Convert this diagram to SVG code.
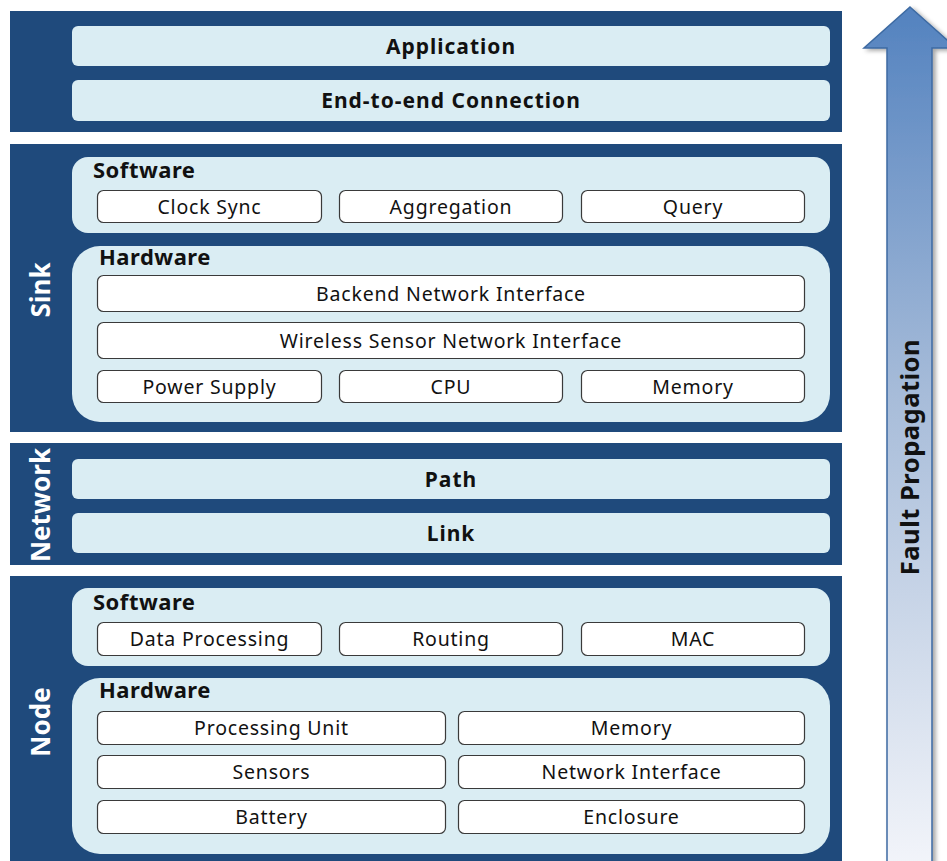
<svg xmlns="http://www.w3.org/2000/svg" width="947" height="861" viewBox="0 0 947 861">
<defs>
<linearGradient id="arrowGrad" x1="0" y1="0" x2="0" y2="1">
<stop offset="0" stop-color="#5382bf"/>
<stop offset="0.45" stop-color="#a7bcd9"/>
<stop offset="1" stop-color="#f3f5fa"/>
</linearGradient>
<filter id="shadow" x="-20%" y="-5%" width="150%" height="110%">
<feDropShadow dx="3" dy="2" stdDeviation="2" flood-color="#000" flood-opacity="0.35"/>
</filter>
</defs>
<style>
.band{fill:#1f4a7c}
.panel{fill:#daedf3}
.box{fill:#ffffff;stroke:#3a3a3a;stroke-width:1.2}
.bt{font-family:"Noto Sans","Open Sans","DejaVu Sans",sans-serif;font-size:19.5px;letter-spacing:0.8px;fill:#111;text-anchor:middle}
.bl{font-family:"Noto Sans","Open Sans","DejaVu Sans",sans-serif;font-size:21px;font-weight:bold;fill:#111;text-anchor:middle;letter-spacing:1px}
.hl{font-family:"Noto Sans","Open Sans","DejaVu Sans",sans-serif;font-size:22px;font-weight:bold;fill:#111;letter-spacing:0.5px}
.side{font-family:"Noto Sans","Open Sans","DejaVu Sans",sans-serif;font-size:26px;font-weight:bold;fill:#ffffff;text-anchor:middle}
.fp{font-family:"Noto Sans","Open Sans","DejaVu Sans",sans-serif;font-size:25.5px;font-weight:bold;fill:#111;text-anchor:middle;letter-spacing:0.5px}
</style>

<g id="arrow">
<polygon points="910,7 956,48 932,48 932,870 887,870 887,48 864,48" fill="url(#arrowGrad)" stroke="#3d6aa2" stroke-width="1.5" filter="url(#shadow)"/>
<text class="fp" x="910" y="466" transform="rotate(-90 910 457)">Fault Propagation</text>
</g>

<g id="top-layer">
<rect class="band" x="10" y="11" width="832" height="121"/>
<g id="application"><rect class="panel" x="72" y="26" width="758" height="40" rx="6"/><text class="bl" x="451" y="54">Application</text></g>
<g id="end-to-end"><rect class="panel" x="72" y="80" width="758" height="41" rx="6"/><text class="bl" x="451" y="108">End-to-end Connection</text></g>
</g>

<g id="sink">
<rect class="band" x="10" y="144" width="832" height="288"/>
<text class="side" x="41" y="299" transform="rotate(-90 41 290)">Sink</text>
<g id="sink-software">
<rect class="panel" x="72" y="157" width="758" height="76" rx="16"/>
<text class="hl" x="93" y="178">Software</text>
<g id="clock-sync"><rect class="box" x="97.5" y="190.5" width="224" height="32" rx="6"/><text class="bt" x="209.5" y="213.5">Clock Sync</text></g>
<g id="aggregation"><rect class="box" x="339.5" y="190.5" width="223" height="32" rx="6"/><text class="bt" x="451" y="213.5">Aggregation</text></g>
<g id="query"><rect class="box" x="581.5" y="190.5" width="223" height="32" rx="6"/><text class="bt" x="693" y="213.5">Query</text></g>
</g>
<g id="sink-hardware">
<rect class="panel" x="72" y="246" width="758" height="176" rx="28"/>
<text class="hl" x="99" y="265">Hardware</text>
<g id="backend"><rect class="box" x="97.5" y="275.5" width="707" height="36" rx="6"/><text class="bt" x="451" y="300.5">Backend Network Interface</text></g>
<g id="wsn-interface"><rect class="box" x="97.5" y="322.5" width="707" height="36" rx="6"/><text class="bt" x="451" y="347.5">Wireless Sensor Network Interface</text></g>
<g id="power-supply"><rect class="box" x="97.5" y="370.5" width="224" height="32" rx="6"/><text class="bt" x="209.5" y="393.5">Power Supply</text></g>
<g id="cpu"><rect class="box" x="339.5" y="370.5" width="223" height="32" rx="6"/><text class="bt" x="451" y="393.5">CPU</text></g>
<g id="sink-memory"><rect class="box" x="581.5" y="370.5" width="223" height="32" rx="6"/><text class="bt" x="693" y="393.5">Memory</text></g>
</g>
</g>

<g id="network">
<rect class="band" x="10" y="443" width="832" height="122"/>
<text class="side" x="41" y="514" transform="rotate(-90 41 505)">Network</text>
<g id="path"><rect class="panel" x="72" y="459" width="758" height="40" rx="6"/><text class="bl" x="451" y="487">Path</text></g>
<g id="link"><rect class="panel" x="72" y="513" width="758" height="40" rx="6"/><text class="bl" x="451" y="541">Link</text></g>
</g>

<g id="node">
<rect class="band" x="10" y="576" width="832" height="285"/>
<text class="side" x="41" y="731" transform="rotate(-90 41 722)">Node</text>
<g id="node-software">
<rect class="panel" x="72" y="588" width="758" height="78" rx="16"/>
<text class="hl" x="93" y="610">Software</text>
<g id="data-processing"><rect class="box" x="97.5" y="622.5" width="224" height="33" rx="6"/><text class="bt" x="209.5" y="646">Data Processing</text></g>
<g id="routing"><rect class="box" x="339.5" y="622.5" width="223" height="33" rx="6"/><text class="bt" x="451" y="646">Routing</text></g>
<g id="mac"><rect class="box" x="581.5" y="622.5" width="223" height="33" rx="6"/><text class="bt" x="693" y="646">MAC</text></g>
</g>
<g id="node-hardware">
<rect class="panel" x="72" y="678" width="758" height="176" rx="28"/>
<text class="hl" x="99" y="698">Hardware</text>
<g id="processing-unit"><rect class="box" x="97.5" y="711.5" width="348" height="33" rx="6"/><text class="bt" x="271.5" y="735">Processing Unit</text></g>
<g id="node-memory"><rect class="box" x="458.5" y="711.5" width="346" height="33" rx="6"/><text class="bt" x="631.5" y="735">Memory</text></g>
<g id="sensors"><rect class="box" x="97.5" y="755.5" width="348" height="33" rx="6"/><text class="bt" x="271.5" y="779">Sensors</text></g>
<g id="network-interface"><rect class="box" x="458.5" y="755.5" width="346" height="33" rx="6"/><text class="bt" x="631.5" y="779">Network Interface</text></g>
<g id="battery"><rect class="box" x="97.5" y="800.5" width="348" height="33" rx="6"/><text class="bt" x="271.5" y="824">Battery</text></g>
<g id="enclosure"><rect class="box" x="458.5" y="800.5" width="346" height="33" rx="6"/><text class="bt" x="631.5" y="824">Enclosure</text></g>
</g>
</g>
</svg>
